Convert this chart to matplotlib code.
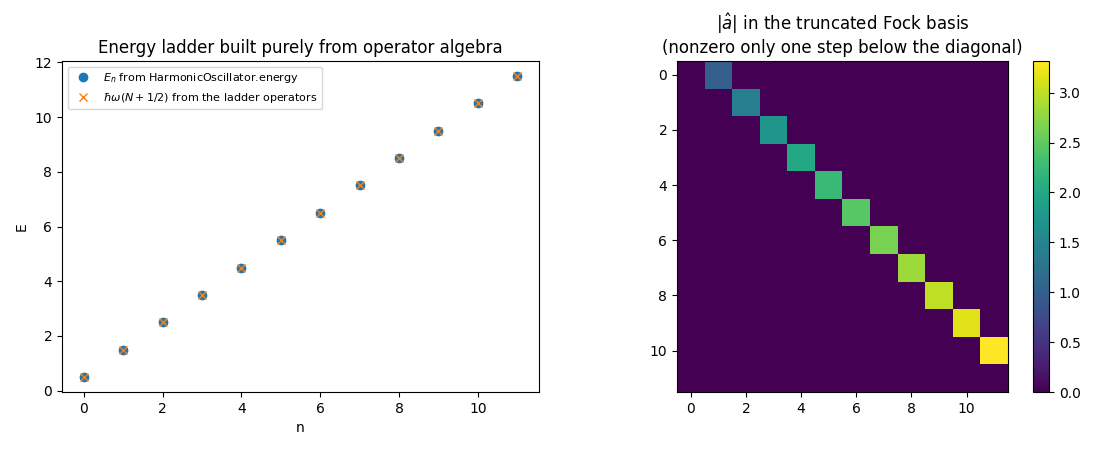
import matplotlib
matplotlib.use("Agg")
import matplotlib.pyplot as plt
import numpy as np

# Energy levels
levels = [0, 1, 2, 3, 4, 5, 6, 7, 8, 9, 10, 11]
energy_direct = [0.5, 1.5, 2.5, 3.5, 4.5, 5.5, 6.5, 7.5, 8.5, 9.5, 10.5, 11.5]
energy_ladder = [0.5, 1.5, 2.5, 3.5, 4.5, 5.5, 6.5, 7.5, 8.5, 9.5, 10.5, 11.5]

# Off-diagonal entries of |a| (row i, column i+1)
offdiag = [1.0, 1.414, 1.732, 2.0, 2.236, 2.449, 2.646, 2.828, 3.0, 3.162, 3.317]

dim = len(levels)
a_abs = np.zeros((dim, dim))
for i, v in enumerate(offdiag):
    a_abs[i, i + 1] = v

W, H = 1100, 450
fig = plt.figure(figsize=(11, 4.5), dpi=100)
ax1 = fig.add_axes([62 / W, 1 - 392 / H, 477 / W, 331 / H])
ax2 = fig.add_axes([677 / W, 1 - 392 / H, 331 / W, 331 / H])
cax = fig.add_axes([1033 / W, 1 - 392 / H, 16 / W, 331 / H])

ax1.plot(levels, energy_direct, "o", label=r"$E_n$ from HarmonicOscillator.energy")
ax1.plot(levels, energy_ladder, "x", label=r"$\hbar\omega(N+1/2)$ from the ladder operators")
ax1.set_xlabel("n")
ax1.set_ylabel("E")
ax1.set_title("Energy ladder built purely from operator algebra")
ax1.legend(fontsize=8)

im = ax2.imshow(a_abs, cmap="viridis")
ax2.set_title("$|\\hat{a}|$ in the truncated Fock basis\n(nonzero only one step below the diagonal)")
fig.colorbar(im, cax=cax)

plt.savefig("out.png", dpi=100)
plt.close()
